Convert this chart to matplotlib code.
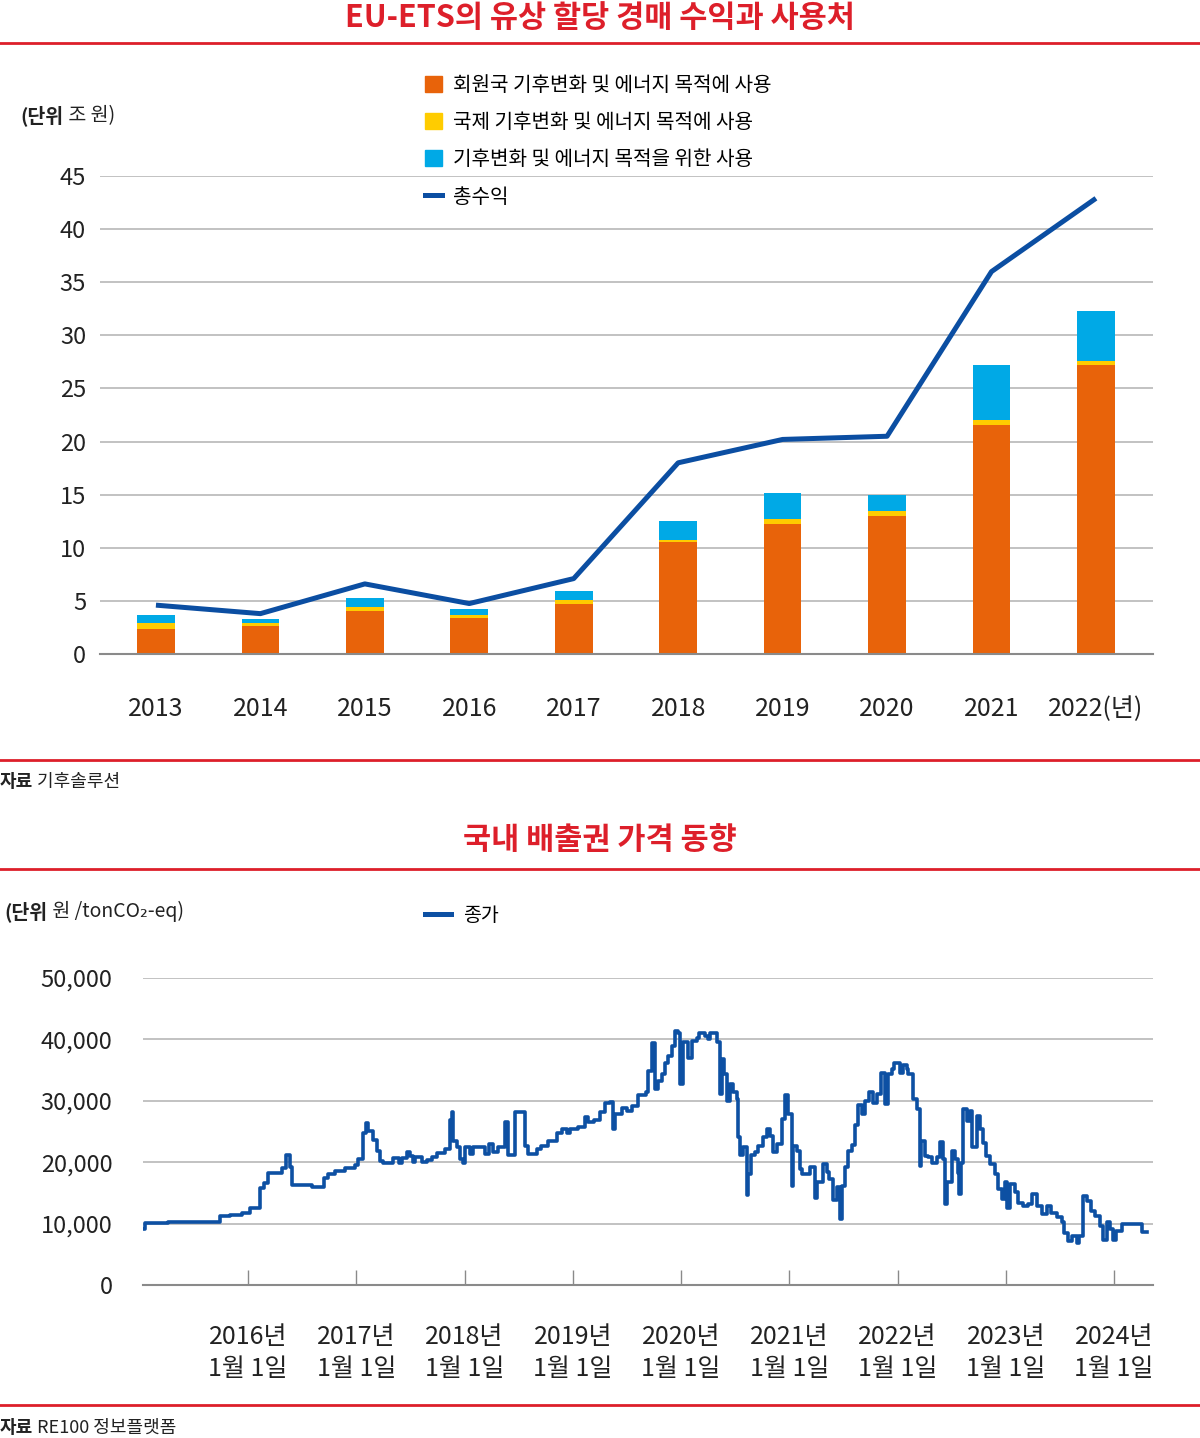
import numpy as np
import matplotlib.pyplot as plt
from matplotlib.lines import Line2D
from matplotlib.patches import Patch

plt.rcParams['font.family'] = ['Noto Sans CJK KR', 'DejaVu Sans']

RED = '#dd1f2a'
GRID = '#b8b8b8'

# 상단: EU-ETS 경매 수익 (조 원)
years = ['2013', '2014', '2015', '2016', '2017', '2018', '2019', '2020', '2021', '2022(년)']
member_use = [2.4, 2.6, 4.05, 3.35, 4.75, 10.5, 12.25, 13.0, 21.6, 27.2]
intl_use = [0.5, 0.3, 0.35, 0.35, 0.35, 0.2, 0.45, 0.5, 0.4, 0.4]
climate_use = [0.8, 0.4, 0.9, 0.5, 0.8, 1.8, 2.5, 1.5, 5.2, 4.7]
total_revenue = [4.6, 3.8, 6.6, 4.75, 7.1, 18.0, 20.2, 20.5, 36.0, 42.9]

# 하단: 국내 배출권 종가 (원/tonCO2-eq), 소수 연도
price_dates = [
    2015.03, 2015.05, 2015.26, 2015.74, 2015.83, 2015.94, 2016.02, 2016.11, 2016.15, 2016.18,
    2016.31, 2016.35, 2016.39, 2016.41, 2016.59, 2016.70, 2016.74, 2016.80, 2016.90, 2016.99,
    2017.02, 2017.06, 2017.09, 2017.11, 2017.15, 2017.19, 2017.22, 2017.25, 2017.34, 2017.39,
    2017.42, 2017.47, 2017.50, 2017.52, 2017.54, 2017.61, 2017.65, 2017.70, 2017.75, 2017.82,
    2017.87, 2017.88, 2017.89, 2017.93, 2017.96, 2017.99, 2018.00, 2018.05, 2018.08, 2018.19,
    2018.23, 2018.26, 2018.31, 2018.37, 2018.40, 2018.47, 2018.54, 2018.56, 2018.59, 2018.67,
    2018.71, 2018.77, 2018.85, 2018.90, 2018.95, 2018.97, 2019.05, 2019.11, 2019.14, 2019.20,
    2019.25, 2019.30, 2019.34, 2019.37, 2019.39, 2019.45, 2019.50, 2019.55, 2019.60, 2019.65,
    2019.68, 2019.69, 2019.73, 2019.76, 2019.79, 2019.82, 2019.85, 2019.88, 2019.92, 2019.94,
    2019.97, 2019.99, 2020.02, 2020.06, 2020.10, 2020.15, 2020.17, 2020.22, 2020.25, 2020.27,
    2020.33, 2020.36, 2020.38, 2020.40, 2020.42, 2020.45, 2020.48, 2020.52, 2020.53, 2020.54,
    2020.57, 2020.61, 2020.62, 2020.65, 2020.68, 2020.71, 2020.76, 2020.79, 2020.82, 2020.85,
    2020.89, 2020.93, 2020.96, 2020.99, 2021.02, 2021.03, 2021.07, 2021.10, 2021.12, 2021.19,
    2021.24, 2021.26, 2021.31, 2021.35, 2021.37, 2021.40, 2021.44, 2021.47, 2021.49, 2021.51,
    2021.54, 2021.58, 2021.61, 2021.63, 2021.67, 2021.70, 2021.74, 2021.77, 2021.81, 2021.85,
    2021.88, 2021.91, 2021.95, 2021.97, 2022.02, 2022.05, 2022.09, 2022.10, 2022.14, 2022.18,
    2022.21, 2022.22, 2022.25, 2022.28, 2022.32, 2022.36, 2022.39, 2022.42, 2022.44, 2022.46,
    2022.50, 2022.53, 2022.56, 2022.57, 2022.59, 2022.60, 2022.64, 2022.67, 2022.69, 2022.73,
    2022.76, 2022.79, 2022.82, 2022.85, 2022.90, 2022.93, 2022.96, 2022.99, 2023.01, 2023.04,
    2023.08, 2023.11, 2023.16, 2023.20, 2023.24, 2023.29, 2023.33, 2023.38, 2023.42, 2023.47,
    2023.52, 2023.54, 2023.57, 2023.61, 2023.66, 2023.68, 2023.71, 2023.75, 2023.79, 2023.82,
    2023.87, 2023.90, 2023.93, 2023.96, 2023.99, 2024.02, 2024.07, 2024.26, 2024.30,
]
price_values = [
    9200, 10100, 10300, 11200, 11400, 11800, 12600, 15800, 16600, 18200,
    19100, 21200, 19200, 16300, 16000, 17500, 18100, 18500, 19000, 19500,
    20500, 24700, 26400, 25000, 23600, 21800, 20200, 19900, 20700, 19900,
    20700, 21700, 21000, 20000, 20800, 20000, 20300, 20800, 21500, 22200,
    26800, 28100, 23500, 22400, 20500, 19900, 22400, 21400, 22400, 21400,
    23000, 21600, 22400, 26500, 21100, 28200, 28100, 22700, 21400, 22200,
    22700, 23500, 24800, 25400, 24800, 25400, 25700, 27300, 26500, 26800,
    28100, 29700, 29800, 25400, 27800, 28800, 28400, 29200, 30900, 31000,
    31400, 34900, 39400, 31900, 33200, 34300, 36200, 37300, 38900, 41400,
    41100, 32700, 39500, 37000, 39700, 40300, 41100, 40600, 40000, 41000,
    39500, 31100, 36800, 34300, 30000, 32700, 31400, 30300, 24100, 21100,
    22400, 14600, 18100, 21100, 21600, 22700, 24100, 25400, 24300, 21600,
    23000, 27000, 30900, 27800, 16200, 22700, 21900, 18900, 18100, 19200,
    14100, 16800, 19700, 18400, 17300, 13800, 15900, 10800, 16200, 19200,
    21900, 22800, 26000, 29300, 27800, 30000, 31500, 29700, 31100, 34600,
    29500, 34300, 35100, 36100, 34600, 35800, 35200, 34300, 30300, 28600,
    19400, 23500, 21000, 20800, 19900, 20800, 23300, 20500, 13200, 16700,
    21800, 20500, 18300, 14800, 19900, 28600, 26700, 28400, 22400, 27600,
    25400, 23200, 21000, 19700, 18000, 15600, 14000, 16800, 12600, 16400,
    15100, 13400, 12900, 13200, 14800, 12900, 11500, 12900, 11800, 11000,
    10200, 8500, 7200, 8000, 6900, 8000, 14500, 13700, 12100, 11300,
    9600, 7400, 10200, 9100, 7400, 8800, 9900, 8600, 8600,
]
year_ticks = [2016, 2017, 2018, 2019, 2020, 2021, 2022, 2023, 2024]
year_labels = [f'{y}년\n1월 1일' for y in year_ticks]
price_ticks = [0, 10000, 20000, 30000, 40000, 50000]

fig = plt.figure(figsize=(12, 14.38), dpi=100)

# 제목, 구분선
fig.text(0.5, 0.9875, 'EU-ETS의 유상 할당 경매 수익과 사용처', ha='center', va='center',
         color=RED, fontsize=22, fontweight='bold')
fig.text(0.5, 0.4159, '국내 배출권 가격 동향', ha='center', va='center',
         color=RED, fontsize=22, fontweight='bold')
for yy in [0.9701, 0.4715, 0.3957, 0.0229]:
    fig.add_artist(Line2D([0, 1], [yy, yy], transform=fig.transFigure, color=RED, lw=2))

# ---------- 상단 차트 ----------
ax = fig.add_axes([0.0833, 0.5452, 0.8775, 0.3324])
x = np.arange(len(years))
w = 0.36
c_orange, c_yellow, c_blue, c_line = '#e8630a', '#ffcc00', '#00a9e6', '#0b4ea2'
b1 = np.array(member_use)
b2 = b1 + np.array(intl_use)
ax.bar(x, member_use, w, color=c_orange, zorder=2)
ax.bar(x, intl_use, w, bottom=b1, color=c_yellow, zorder=2)
ax.bar(x, climate_use, w, bottom=b2, color=c_blue, zorder=2)
ax.plot(x, total_revenue, color=c_line, lw=3.6, zorder=3, solid_capstyle='butt')

ax.set_xlim(-0.536, 9.546)
ax.set_ylim(0, 45)
ax.set_yticks(np.arange(0, 46, 5))
ax.set_xticks(x)
ax.set_xticklabels(years)
ax.grid(axis='y', color=GRID, lw=1.2, zorder=0)
for s in ['top', 'left', 'right']:
    ax.spines[s].set_visible(False)
ax.spines['bottom'].set_color('#8a8a8a')
ax.spines['bottom'].set_linewidth(1.5)
ax.tick_params(axis='both', length=0, colors='#222222')
ax.tick_params(axis='y', labelsize=17, pad=10)
ax.tick_params(axis='x', labelsize=18, pad=30)

handles = [Patch(color=c_orange), Patch(color=c_yellow), Patch(color=c_blue),
           Line2D([], [], color=c_line, lw=3.6)]
labels = ['회원국 기후변화 및 에너지 목적에 사용', '국제 기후변화 및 에너지 목적에 사용',
          '기후변화 및 에너지 목적을 위한 사용', '총수익']
fig.legend(handles, labels, loc='upper left', bbox_to_anchor=(0.354, 0.948),
           frameon=False, fontsize=14.5, handlelength=0.85, handleheight=0.85,
           handletextpad=0.55, labelspacing=0.81, borderaxespad=0, borderpad=0)

t1 = fig.text(0.017, 0.9193, '(단위', fontsize=14, fontweight='bold', va='center', color='#222222')
ax.annotate(' 조 원)', xy=(1, 0), xycoords=t1, va='bottom', ha='left',
            fontsize=14, color='#222222')

s1 = fig.text(0.0, 0.4562, '자료', fontsize=13, fontweight='bold', va='center', color='#222222')
ax.annotate(' 기후솔루션', xy=(1, 0), xycoords=s1, va='bottom', ha='left',
            fontsize=13, color='#222222')

# ---------- 하단 차트 ----------
ax2 = fig.add_axes([0.1192, 0.1064, 0.8417, 0.2135])
ax2.plot(price_dates, price_values, drawstyle='steps-post', color='#0d50a3', lw=2.6)
ax2.set_xlim(2015.03, 2024.36)
ax2.set_ylim(0, 50000)
ax2.set_yticks(price_ticks)
ax2.set_yticklabels([f'{v:,}' for v in price_ticks])
ax2.set_xticks(year_ticks)
ax2.set_xticklabels(year_labels, linespacing=1.3)
ax2.grid(axis='y', color=GRID, lw=1.2, zorder=0)
for s in ['top', 'left', 'right']:
    ax2.spines[s].set_visible(False)
ax2.spines['bottom'].set_color('#8a8a8a')
ax2.spines['bottom'].set_linewidth(1.5)
ax2.tick_params(axis='y', length=0, labelsize=17, pad=22, colors='#222222')
ax2.tick_params(axis='x', direction='in', length=11, width=1, color='#8a8a8a',
                labelsize=18, pad=28, labelcolor='#222222')

ax2.legend([Line2D([], [], color='#0d50a3', lw=3.6)], ['종가'], loc='upper left',
           bbox_to_anchor=(0.354, 0.3705), bbox_transform=fig.transFigure,
           frameon=False, fontsize=14, handlelength=1.35, handletextpad=0.6,
           borderaxespad=0, borderpad=0)

u1 = fig.text(0.004, 0.3658, '(단위', fontsize=14, fontweight='bold', va='center', color='#222222')
ax2.annotate(' 원 /tonCO₂-eq)', xy=(1, 0), xycoords=u1, va='bottom', ha='left',
             fontsize=14, color='#222222')

s2 = fig.text(0.0, 0.0076, '자료', fontsize=13, fontweight='bold', va='center', color='#222222')
ax2.annotate(' RE100 정보플랫폼', xy=(1, 0), xycoords=s2, va='bottom', ha='left',
             fontsize=13, color='#222222')

fig.savefig('out.png', dpi=100)
